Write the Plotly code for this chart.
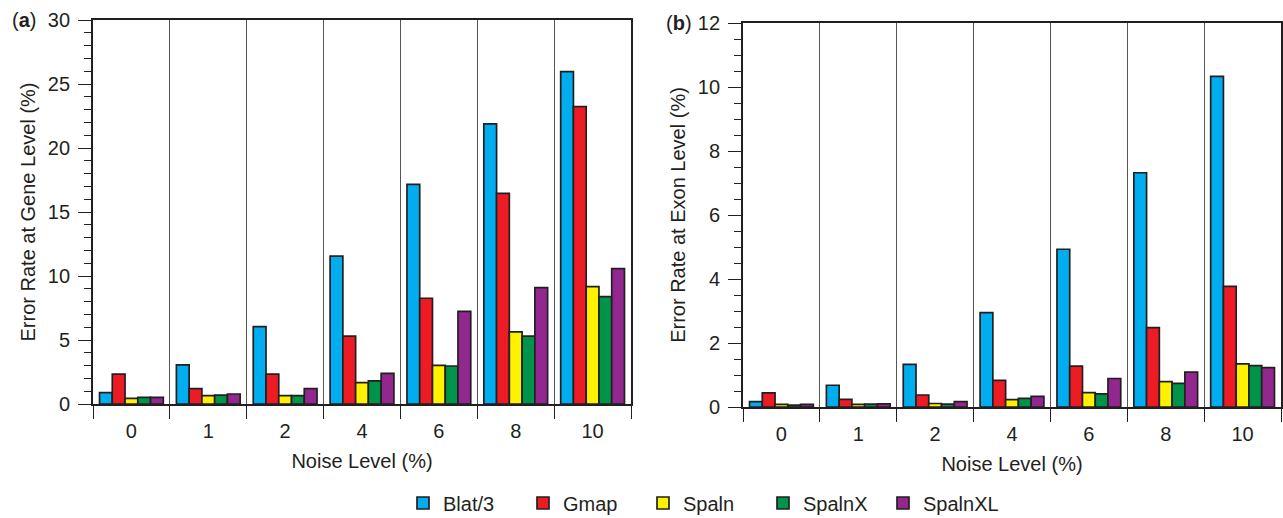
import plotly.graph_objects as go
from plotly.subplots import make_subplots

noise_levels = ["0", "1", "2", "4", "6", "8", "10"]
series_names = ["Blat/3", "Gmap", "Spaln", "SpalnX", "SpalnXL"]
series_colors = ["#00aeef", "#ed1c24", "#fff200", "#00934a", "#92278f"]

gene_blat3 = [0.89, 3.05, 6.04, 11.56, 17.16, 21.88, 25.96]
gene_gmap = [2.34, 1.20, 2.34, 5.31, 8.26, 16.46, 23.23]
gene_spaln = [0.44, 0.65, 0.65, 1.67, 3.02, 5.63, 9.17]
gene_spalnx = [0.52, 0.70, 0.65, 1.80, 2.97, 5.31, 8.39]
gene_spalnxl = [0.52, 0.78, 1.20, 2.40, 7.24, 9.09, 10.57]

exon_blat3 = [0.17, 0.68, 1.33, 2.95, 4.93, 7.32, 10.33]
exon_gmap = [0.44, 0.24, 0.375, 0.83, 1.28, 2.48, 3.77]
exon_spaln = [0.08, 0.08, 0.11, 0.23, 0.45, 0.79, 1.35]
exon_spalnx = [0.06, 0.09, 0.09, 0.27, 0.41, 0.74, 1.29]
exon_spalnxl = [0.08, 0.10, 0.17, 0.33, 0.89, 1.09, 1.23]

gene_series = [gene_blat3, gene_gmap, gene_spaln, gene_spalnx, gene_spalnxl]
exon_series = [exon_blat3, exon_gmap, exon_spaln, exon_spalnx, exon_spalnxl]

W, H = 1283, 518
INK = "#231f20"
FONT = "Liberation Sans, Arial, Helvetica, sans-serif"
FS = 20

fig = make_subplots(rows=1, cols=2)

for i, name in enumerate(series_names):
    fig.add_trace(go.Bar(x=noise_levels, y=gene_series[i], name=name,
                         marker=dict(color=series_colors[i], line=dict(color=INK, width=1.7)),
                         showlegend=True, legendgroup=name), row=1, col=1)
    fig.add_trace(go.Bar(x=noise_levels, y=exon_series[i], name=name,
                         marker=dict(color=series_colors[i], line=dict(color=INK, width=1.7)),
                         showlegend=False, legendgroup=name), row=1, col=2)

def px_x(p):
    return p / W

def px_y(p):
    return (H - p) / H

xcommon = dict(type="category", tickson="boundaries", ticks="outside", ticklen=13,
               tickwidth=1.3, tickcolor=INK, showgrid=True, gridcolor="#555555", gridwidth=1.3,
               showline=True, linecolor=INK, linewidth=1.8, mirror=True,
               tickfont=dict(size=FS, color=INK, family=FONT), ticklabelstandoff=8,
               title=dict(text="Noise Level (%)", font=dict(size=FS, color=INK, family=FONT), standoff=13),
               automargin=False, zeroline=False)

ycommon = dict(ticks="outside", ticklen=13, tickwidth=1.3, tickcolor=INK,
               showgrid=False, zeroline=False, showline=True, linecolor=INK, linewidth=1.8,
               mirror=True, tickfont=dict(size=FS, color=INK, family=FONT), ticklabelstandoff=4,
               automargin=False)

fig.update_layout(
    xaxis=dict(domain=[px_x(93), px_x(631)], **xcommon),
    xaxis2=dict(domain=[px_x(743), px_x(1281)], **xcommon),
    yaxis=dict(domain=[px_y(404), px_y(20)], range=[0, 30], dtick=5, tick0=0,
               minor=dict(dtick=1, ticks="outside", ticklen=7, tickwidth=1.3, tickcolor=INK),
               title=dict(text="Error Rate at Gene Level (%)", font=dict(size=FS, color=INK, family=FONT), standoff=7),
               **ycommon),
    yaxis2=dict(domain=[px_y(407), px_y(23)], range=[0, 12], dtick=2, tick0=0,
                minor=dict(dtick=0.5, ticks="outside", ticklen=7, tickwidth=1.3, tickcolor=INK),
                title=dict(text="Error Rate at Exon Level (%)", font=dict(size=FS, color=INK, family=FONT), standoff=7),
                **ycommon),
    barmode="group", bargap=0.17, bargroupgap=0,
    width=W, height=H,
    margin=dict(l=0, r=0, t=0, b=0, autoexpand=False),
    paper_bgcolor="white", plot_bgcolor="white",
    font=dict(family=FONT, color=INK, size=FS),
    legend=dict(orientation="h", x=px_x(403), xanchor="left", y=px_y(503), yanchor="middle",
                font=dict(size=FS, color=INK, family=FONT), itemwidth=30,
                entrywidth=75, entrywidthmode="pixels",
                traceorder="normal", bgcolor="rgba(0,0,0,0)"),
    annotations=[
        dict(text="(<b>a</b>)", x=px_x(10), y=px_y(20), xref="paper", yref="paper",
             xanchor="left", yanchor="middle", showarrow=False,
             font=dict(size=FS, color=INK, family=FONT)),
        dict(text="(<b>b</b>)", x=px_x(664), y=px_y(23), xref="paper", yref="paper",
             xanchor="left", yanchor="middle", showarrow=False,
             font=dict(size=FS, color=INK, family=FONT)),
    ],
)

fig.write_html("out.html", config={"displayModeBar": False},
               post_script="document.body.style.margin='0';document.body.style.overflow='hidden';")
